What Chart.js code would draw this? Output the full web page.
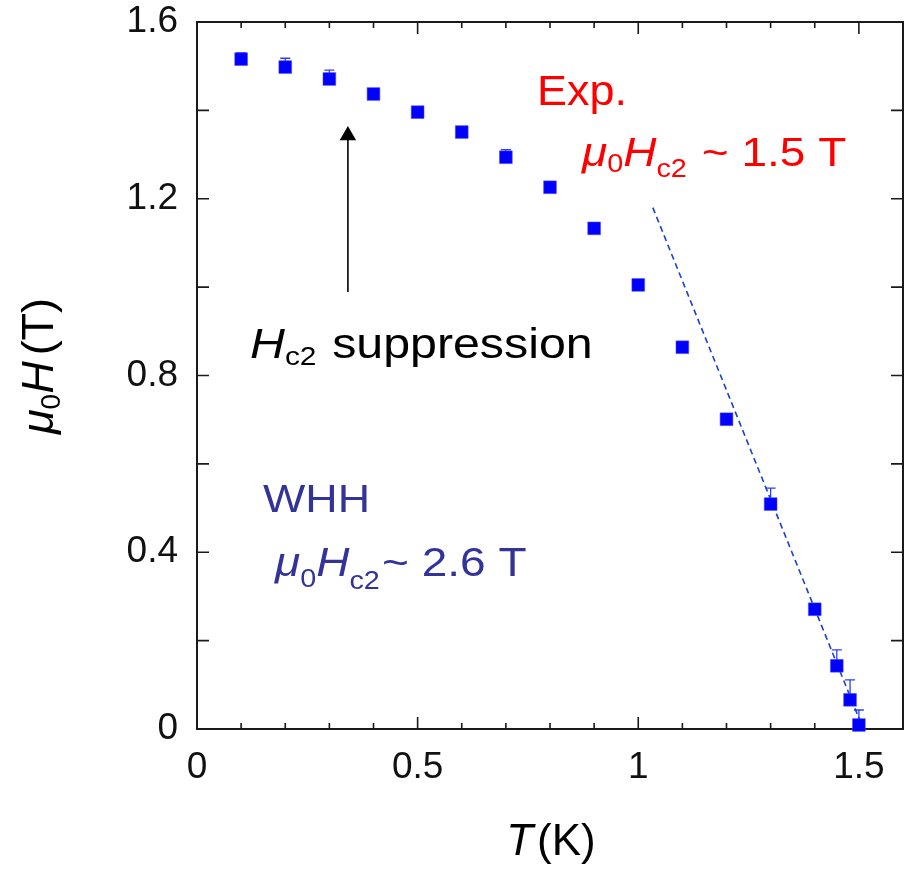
<!DOCTYPE html>
<html>
<head>
<meta charset="utf-8">
<script src="https://cdn.jsdelivr.net/npm/chart.js@4.4.1/dist/chart.umd.min.js"></script>
<style>
  html, body { margin: 0; padding: 0; background: #fff; }
</style>
</head>
<body>
<canvas id="hc2Chart" width="914" height="869"></canvas>
<script>
// Hc2(T) data
const temps  = [0.1, 0.2, 0.3, 0.4, 0.5, 0.6, 0.7, 0.8, 0.9, 1.0, 1.1, 1.2, 1.3, 1.4, 1.45, 1.48, 1.50];
const fields = [1.516, 1.498, 1.471, 1.437, 1.396, 1.351, 1.294, 1.226, 1.133, 1.005, 0.864, 0.701, 0.509, 0.271, 0.143, 0.066, 0.009];
const errUp  = [0.014, 0.02, 0.02, 0.005, 0.005, 0.005, 0.017, 0.005, 0.005, 0.005, 0.005, 0.005, 0.036, 0.01, 0.036, 0.045, 0.034];

// linear extrapolation near Tc (dashed)
const fitT = [1.033, 1.51];
const fitH = [1.18, 0];

// "Hc2 suppression" arrow
const arrowT = [0.342, 0.342];
const arrowH = [0.989, 1.343];

const xTickLabels = ["0", "0.5", "1", "1.5"];
const yTickLabels = ["0", "0.4", "0.8", "1.2", "1.6"];

const FONT = '"Liberation Sans", Arial, Helvetica, sans-serif';

function fmt(v) { return String(Number(v.toFixed(2))); }

function drawRich(ctx, segs, size, color, sx, measureOnly) {
    let cx = 0;
    ctx.save();
    ctx.scale(sx, 1);
    ctx.fillStyle = color;
    ctx.textAlign = 'left';
    ctx.textBaseline = 'alphabetic';
    for (const s of segs) {
        const fs = s.sub ? Math.round(size * 0.62) : size;
        ctx.font = (s.it ? 'italic ' : '') + fs + 'px ' + FONT;
        cx += s.pre || 0;
        if (!measureOnly) ctx.fillText(s.t, cx, s.dy || 0);
        cx += ctx.measureText(s.t).width;
    }
    ctx.restore();
    return cx * sx;
}

function richAt(ctx, x, y, segs, size, color, sx) {
    ctx.save();
    ctx.translate(x, y);
    drawRich(ctx, segs, size, color, sx);
    ctx.restore();
}

function noLabelPadding(s) {
    s.paddingTop = 0; s.paddingBottom = 0;
    s.paddingLeft = 0; s.paddingRight = 0;
}

const frameTicks = {
    id: 'frameTicks',
    beforeDatasetsDraw(chart) {
        const { ctx, chartArea: a, scales: { x, y } } = chart;
        ctx.save();
        ctx.strokeStyle = '#1a1a1a';
        ctx.lineWidth = 2;
        ctx.strokeRect(a.left, a.top, a.right - a.left, a.bottom - a.top);
        ctx.lineWidth = 1.6;
        ctx.beginPath();
        x.ticks.forEach(t => {
            const px = x.getPixelForValue(t.value);
            if (px <= a.left + 1 || px >= a.right - 1) return;
            const len = t.label ? 12 : 6;
            ctx.moveTo(px, a.bottom); ctx.lineTo(px, a.bottom - len);
            ctx.moveTo(px, a.top); ctx.lineTo(px, a.top + len);
        });
        y.ticks.forEach(t => {
            const py = y.getPixelForValue(t.value);
            if (py <= a.top + 1 || py >= a.bottom - 1) return;
            ctx.moveTo(a.left, py); ctx.lineTo(a.left + 12, py);
            ctx.moveTo(a.right, py); ctx.lineTo(a.right - 12, py);
        });
        ctx.stroke();

        // upward error bars
        ctx.strokeStyle = '#2f3dff';
        ctx.lineWidth = 1.3;
        ctx.beginPath();
        temps.forEach((t, i) => {
            const px = x.getPixelForValue(t);
            const y0 = y.getPixelForValue(fields[i]);
            const y1 = y.getPixelForValue(fields[i] + errUp[i]);
            ctx.moveTo(px, y0); ctx.lineTo(px, y1);
            ctx.moveTo(px - 5, y1); ctx.lineTo(px + 5, y1);
        });
        ctx.stroke();
        ctx.restore();
    },
    afterDraw(chart) {
        const ctx = chart.ctx;
        // annotations
        richAt(ctx, 537, 105, [{ t: 'Exp.' }], 42, '#ff0000', 1.07);
        richAt(ctx, 582, 166, [
            { t: 'μ', it: true }, { t: '0', sub: true, dy: 6 },
            { t: 'H', it: true }, { t: 'c2', sub: true, dy: 11 },
            { t: ' ~ 1.5 T', pre: 2 }
        ], 40, '#ff0000', 1.15);
        richAt(ctx, 250, 358, [
            { t: 'H', it: true }, { t: 'c2', sub: true, dy: 7 },
            { t: ' suppression', pre: 2 }
        ], 42, '#000000', 1.15);
        richAt(ctx, 263, 512, [{ t: 'WHH' }], 38, '#333399', 1.18);
        richAt(ctx, 275, 576, [
            { t: 'μ', it: true }, { t: '0', sub: true, dy: 11 },
            { t: 'H', it: true }, { t: 'c2', sub: true, dy: 13 },
            { t: '~ 2.6 T', pre: 2 }
        ], 40, '#333399', 1.15);

        // axis titles
        const xSegs = [{ t: 'T', it: true }, { t: '(K)', pre: 4 }];
        const xw = drawRich(ctx, xSegs, 44, '#000', 1, true);
        richAt(ctx, 551 - xw / 2, 855, xSegs, 44, '#000', 1);

        const ySegs = [
            { t: 'μ', it: true }, { t: '0', sub: true, dy: 7 },
            { t: 'H', it: true }, { t: '(T)', pre: 6 }
        ];
        const yw = drawRich(ctx, ySegs, 45, '#000', 1, true);
        ctx.save();
        ctx.translate(53, 366 + yw / 2);
        ctx.rotate(-Math.PI / 2);
        drawRich(ctx, ySegs, 45, '#000', 1);
        ctx.restore();
    }
};

new Chart(document.getElementById('hc2Chart'), {
    type: 'scatter',
    data: {
        datasets: [
            {
                label: 'Hc2',
                data: temps.map((t, i) => ({ x: t, y: fields[i] })),
                pointStyle: 'rect',
                pointRadius: 9,
                backgroundColor: '#0000ff',
                borderColor: 'rgba(70,70,255,0.55)',
                borderWidth: 1,
                clip: false,
                order: 0
            },
            {
                label: 'fit',
                data: fitT.map((t, i) => ({ x: t, y: fitH[i] })),
                showLine: true,
                borderColor: '#1b3fd0',
                borderWidth: 1.6,
                borderDash: [6, 4],
                pointRadius: 0,
                clip: 4,
                order: 1
            },
            {
                label: 'arrow',
                data: arrowT.map((t, i) => ({ x: t, y: arrowH[i] })),
                showLine: true,
                borderColor: '#000',
                borderWidth: 1.6,
                pointStyle: 'triangle',
                pointRadius: [0, 9.5],
                pointBackgroundColor: '#000',
                pointBorderWidth: 0,
                order: 1
            }
        ]
    },
    options: {
        responsive: false,
        animation: false,
        events: [],
        layout: { padding: { top: 22, right: 11, left: 0, bottom: 0 } },
        plugins: { legend: { display: false }, tooltip: { enabled: false } },
        scales: {
            x: {
                type: 'linear', min: 0, max: 1.6,
                grid: { display: false, drawTicks: false },
                border: { display: false },
                ticks: {
                    stepSize: 0.1, autoSkip: false, maxRotation: 0, padding: 17,
                    color: '#111', font: { family: FONT, size: 37 },
                    callback: v => xTickLabels.includes(fmt(v)) ? fmt(v) : ''
                },
                afterFit(s) { s.height = 140; noLabelPadding(s); }
            },
            y: {
                type: 'linear', min: 0, max: 1.6,
                grid: { display: false, drawTicks: false },
                border: { display: false },
                ticks: {
                    stepSize: 0.2, autoSkip: false, padding: 19,
                    color: '#111', font: { family: FONT, size: 37 },
                    callback: v => yTickLabels.includes(fmt(v)) ? fmt(v) : ''
                },
                afterFit(s) { s.width = 197; noLabelPadding(s); }
            }
        }
    },
    plugins: [frameTicks]
});
</script>
</body>
</html>
